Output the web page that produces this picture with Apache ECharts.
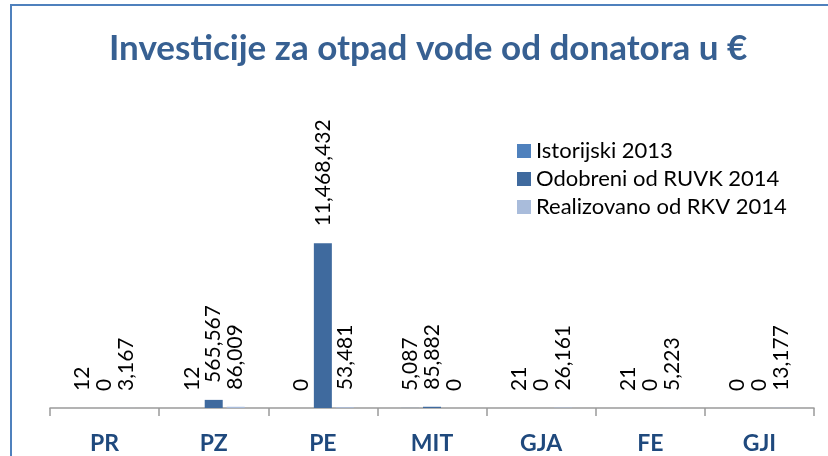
<!DOCTYPE html>
<html>
<head>
<meta charset="utf-8">
<script src="https://cdn.jsdelivr.net/npm/echarts@6/dist/echarts.min.js"></script>
<style>
  html, body { margin: 0; padding: 0; background: #fff; }
  #main { width: 828px; height: 456px; }
</style>
</head>
<body>
<div id="main"></div>
<script>
// kategorije (opštine)
var categories = ['PR', 'PZ', 'PE', 'MIT', 'GJA', 'FE', 'GJI'];
// vrijednosti po seriji
var istorijski2013 = [12, 12, 0, 5087, 21, 21, 0];
var odobreniRuvk2014 = [0, 565567, 11468432, 85882, 0, 0, 0];
var realizovanoRkv2014 = [3167, 86009, 53481, 0, 26161, 5223, 13177];
var seriesNames = ['Istorijski 2013', 'Odobreni od RUVK 2014', 'Realizovano od RKV 2014'];

var font = 'Lato, sans-serif';

// zajednicki label za sve stubice
function barLabel() {
    return {
        show: true,
        position: 'top',
        rotate: 90,
        align: 'left',
        verticalAlign: 'middle',
        distance: 17,
        color: '#000',
        fontFamily: font,
        fontSize: 21,
        formatter: function (p) {
            return p.value.toLocaleString('en-US');
        }
    };
}

function makeSeries(name, data, color) {
    return {
        name: name,
        type: 'bar',
        data: data,
        barWidth: 18,
        barGap: '22%',
        itemStyle: { color: color },
        label: barLabel(),
        emphasis: { disabled: true }
    };
}

var chart = echarts.init(document.getElementById('main'));
var option = {
    animation: false,
    title: {
        text: 'Investicije za otpad vode od donatora u €',
        left: 104,
        top: 26,
        textStyle: {
            color: '#376092',
            fontFamily: font,
            fontWeight: 'bold',
            fontSize: 35
        }
    },
    legend: {
        orient: 'vertical',
        left: 512,
        top: 135,
        itemWidth: 14,
        itemHeight: 14,
        itemGap: 6,
        icon: 'rect',
        data: seriesNames,
        textStyle: { color: '#000', fontFamily: font, fontSize: 22 }
    },
    grid: {
        left: 50,
        right: 14,
        top: 207,
        bottom: 48
    },
    xAxis: {
        type: 'category',
        data: categories,
        axisLine: { lineStyle: { color: '#9a9a9a', width: 1.5 } },
        axisTick: { show: true, length: 8, lineStyle: { color: '#9a9a9a', width: 1.5 } },
        axisLabel: {
            color: '#1F497D',
            fontFamily: font,
            fontWeight: 'bold',
            fontSize: 23,
            margin: 24
        }
    },
    yAxis: {
        type: 'value',
        min: 0,
        max: 14000000,
        show: false,
        splitLine: { show: false }
    },
    graphic: [{
        type: 'rect',
        shape: { x: 11, y: 5, width: 840, height: 470 },
        style: { fill: 'none', stroke: '#4F81BD', lineWidth: 2 },
        silent: true
    }],
    series: [
        makeSeries(seriesNames[0], istorijski2013, '#4F81BD'),
        makeSeries(seriesNames[1], odobreniRuvk2014, '#3F6A9E'),
        makeSeries(seriesNames[2], realizovanoRkv2014, '#A9BCDB')
    ]
};
chart.setOption(option);
</script>
</body>
</html>
